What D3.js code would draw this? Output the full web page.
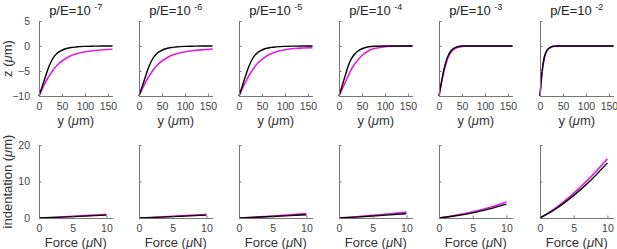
<!DOCTYPE html>
<html>
<head>
  <meta charset="utf-8">
  <title>Indentation panels</title>
  <script src="https://d3js.org/d3.v7.min.js"></script>
  <style>
    body { margin: 0; background: #fff; }
    svg text { font-family: "Liberation Sans", Arial, sans-serif; }
    .tick text { fill: #444; font-size: 10.5px; }
  </style>
</head>
<body>
<div id="chart-container"></div>
<script>

// exponents for the panel titles
var exponents = ["-7", "-6", "-5", "-4", "-3", "-2"];

// top row: z profile vs y (um)
var yPos = [0, 2, 4, 6, 8, 10, 15, 20, 25, 30, 40, 50, 60, 70, 80, 100, 120, 140, 160];

var zBlack = [
  [-10, -9.45, -8.9, -8.35, -7.8, -7.25, -5.85, -4.5, -3.4, -2.5, -1.4, -0.85, -0.5, -0.3, -0.2, -0.08, -0.03, 0, 0],
  [-10, -9.45, -8.9, -8.35, -7.8, -7.25, -5.85, -4.5, -3.4, -2.5, -1.4, -0.85, -0.5, -0.3, -0.2, -0.08, -0.03, 0, 0],
  [-10, -9.45, -8.9, -8.35, -7.8, -7.2, -5.8, -4.45, -3.35, -2.45, -1.35, -0.8, -0.45, -0.28, -0.18, -0.07, -0.02, 0, 0],
  [-10, -9.4, -8.8, -8.2, -7.6, -7.0, -5.5, -4.0, -2.9, -2.1, -1.1, -0.55, -0.25, -0.1, -0.05, 0, 0, 0, 0],
  [-10, -8.9, -7.9, -6.9, -5.9, -5.0, -3.2, -1.9, -1.1, -0.6, -0.15, 0, 0, 0, 0, 0, 0, 0, 0],
  [-10, -7.5, -5.5, -4.0, -2.9, -2.0, -0.9, -0.4, -0.15, -0.05, 0, 0, 0, 0, 0, 0, 0, 0, 0]
];

var zMagenta = [
  [-10, -9.6, -9.2, -8.8, -8.4, -8.0, -7.1, -6.3, -5.6, -4.9, -3.8, -3.0, -2.4, -1.9, -1.6, -1.15, -0.9, -0.75, -0.65],
  [-10, -9.6, -9.2, -8.8, -8.4, -8.0, -7.1, -6.3, -5.6, -4.9, -3.8, -3.0, -2.4, -1.9, -1.6, -1.15, -0.9, -0.75, -0.63],
  [-10, -9.6, -9.2, -8.8, -8.4, -8.0, -7.1, -6.2, -5.4, -4.7, -3.5, -2.7, -2.0, -1.55, -1.2, -0.75, -0.5, -0.4, -0.33],
  [-10, -9.6, -9.2, -8.8, -8.4, -8.0, -7.0, -6.0, -5.0, -4.2, -2.9, -1.9, -1.2, -0.7, -0.45, -0.15, -0.05, 0, 0],
  [-10, -9.0, -8.0, -7.1, -6.2, -5.4, -3.6, -2.3, -1.4, -0.85, -0.3, -0.1, 0, 0, 0, 0, 0, 0, 0],
  [-10, -7.7, -5.8, -4.3, -3.1, -2.2, -1.0, -0.45, -0.2, -0.05, 0, 0, 0, 0, 0, 0, 0, 0, 0]
];

// bottom row: indentation (um) vs force (uN)
var force = [0, 2.5, 5, 7.5, 10];

var indBlack = [
  [0, 0.17, 0.37, 0.58, 0.8],
  [0, 0.17, 0.37, 0.58, 0.8],
  [0, 0.2, 0.42, 0.65, 0.9],
  [0, 0.25, 0.55, 0.87, 1.2],
  [0, 0.6, 1.4, 2.5, 3.8],
  [0, 2.7, 6.2, 10.3, 15.1]
];

var indMagenta = [
  [0, 0.22, 0.47, 0.73, 1.0],
  [0, 0.22, 0.47, 0.73, 1.0],
  [0, 0.26, 0.56, 0.87, 1.2],
  [0, 0.34, 0.74, 1.15, 1.6],
  [0, 0.75, 1.7, 2.9, 4.4],
  [0, 3.0, 6.8, 11.2, 16.2]
];

var topXTicks = [0, 50, 100, 150];
var topYTicks = [-10, -5, 0, 5];
var botXTicks = [0, 5, 10];
var botYTicks = [0, 10, 20];

var panelLeft = [39, 139, 239, 339, 439, 540];
var panelW = 73.5;
var axisColor = "#777";
var magenta = "#e020e0";

var svg = d3.select("#chart-container")
  .append("svg")
  .attr("width", 617)
  .attr("height", 249);

function styleAxis(g) {
  g.select(".domain").attr("stroke", axisColor).attr("stroke-width", 1);
  g.selectAll(".tick line").attr("stroke", axisColor);
}

function drawPanel(i, xDomain, yDomain, yTop, yBottom, xTicks, yTicks, xs, blackVals, magVals, xLabel, yLabel) {
  var left = panelLeft[i];
  var x = d3.scaleLinear().domain(xDomain).range([left, left + panelW]);
  var y = d3.scaleLinear().domain(yDomain).range([yBottom, yTop]);

  var line = d3.line()
    .x((d, k) => x(xs[k]))
    .y(d => y(d))
    .curve(d3.curveMonotoneX);

  svg.append("path")
    .datum(magVals)
    .attr("d", line)
    .attr("fill", "none")
    .attr("stroke", magenta)
    .attr("stroke-width", 1.6);

  svg.append("path")
    .datum(blackVals)
    .attr("d", line)
    .attr("fill", "none")
    .attr("stroke", "#000")
    .attr("stroke-width", 1.4);

  // axes with inward ticks, like matlab box off
  var xAxis = svg.append("g")
    .attr("transform", "translate(0," + yBottom + ")")
    .call(d3.axisBottom(x).tickValues(xTicks).tickSizeInner(-2.5).tickSizeOuter(0).tickPadding(6));
  styleAxis(xAxis);
  xAxis.selectAll(".tick text").attr("dy", "0.75em");

  var yAxis = svg.append("g")
    .attr("transform", "translate(" + left + ",0)")
    .call(d3.axisLeft(y).tickValues(yTicks).tickSizeInner(-2.5).tickSizeOuter(0).tickPadding(9));
  styleAxis(yAxis);
  if (i > 0) yAxis.selectAll(".tick text").remove();

  // x label
  var xl = svg.append("text")
    .attr("x", left + panelW / 2)
    .attr("y", yBottom + 29)
    .attr("text-anchor", "middle")
    .attr("font-size", 13)
    .attr("fill", "#333");
  xl.append("tspan").text(xLabel[0]);
  xl.append("tspan").attr("font-style", "italic").text("\u03bc");
  xl.append("tspan").text(xLabel[1]);

  if (i === 0) {
    var cy = (yTop + yBottom) / 2;
    var yl = svg.append("text")
      .attr("transform", "translate(" + 12 + "," + cy + ") rotate(-90)")
      .attr("text-anchor", "middle")
      .attr("font-size", 13)
      .attr("fill", "#333");
    yl.append("tspan").text(yLabel[0]);
    yl.append("tspan").attr("font-style", "italic").text("\u03bc");
    yl.append("tspan").text(yLabel[1]);
  }
}

for (var i = 0; i < 6; i++) {
  drawPanel(i, [0, 160], [-10, 5], 21, 96, topXTicks, topYTicks, yPos, zBlack[i], zMagenta[i], ["y (", "m)"], ["z (", "m)"]);
  drawPanel(i, [0, 10.9], [0, 20], 145, 218, botXTicks, botYTicks, force, indBlack[i], indMagenta[i], ["Force (", "N)"], ["indentation (", "m)"]);

  // title p/E=10^exp
  var t = svg.append("text")
    .attr("x", panelLeft[i] + panelW / 2)
    .attr("y", 15)
    .attr("text-anchor", "middle")
    .attr("font-size", 13)
    .attr("fill", "#222");
  t.append("tspan").text("p/E=10 ");
  t.append("tspan").attr("font-size", 9).attr("dy", -5).text(exponents[i]);
}
</script>
</body>
</html>
